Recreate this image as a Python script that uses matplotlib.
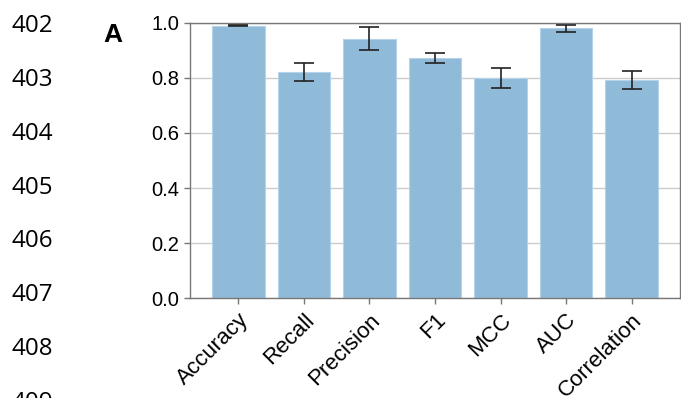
import matplotlib
matplotlib.use("Agg")
import matplotlib.pyplot as plt
import numpy as np

# ---- data ----
metrics = ["Accuracy", "Recall", "Precision", "F1", "MCC", "AUC", "Correlation"]
means = [0.989, 0.821, 0.942, 0.872, 0.800, 0.980, 0.791]
errors = [0.001, 0.031, 0.041, 0.019, 0.036, 0.013, 0.033]
yticks = [0.0, 0.2, 0.4, 0.6, 0.8, 1.0]
line_numbers = ["402", "403", "404", "405", "406", "407", "408", "409"]
panel_label = "A"

W, H = 681, 398
dpi = 100
fig = plt.figure(figsize=(W / dpi, H / dpi), dpi=dpi)
fig.patch.set_facecolor("white")

ax = fig.add_axes([190 / W, 1 - 298.3 / H, (680 - 190) / W, (298.3 - 22.7) / H])

x = np.arange(len(metrics))
ax.bar(x, means, width=0.8, color="#8fbbd9", edgecolor="#b4d3ea", linewidth=0.8,
       zorder=2)
ax.errorbar(x, means, yerr=errors, fmt="none", ecolor="#222222", elinewidth=1.2,
            capsize=7.2, capthick=1.2, zorder=3)

ax.set_ylim(0, 1.0)
ax.set_yticks(yticks)
ax.set_yticklabels([f"{t:.1f}" for t in yticks], fontsize=14.5,
                   family=["Liberation Sans", "DejaVu Sans"])
ax.set_xticks(x)
ax.set_xticklabels(metrics, rotation=45, ha="right", rotation_mode="anchor",
                   fontsize=16, family=["Liberation Sans", "DejaVu Sans"])

ax.yaxis.grid(True, color="#cccccc", linewidth=1.0, zorder=0)
ax.set_axisbelow(True)
for s in ax.spines.values():
    s.set_color("#777777")
    s.set_linewidth(1.0)
ax.tick_params(axis="both", colors="#777777", labelcolor="black", length=4.5, width=1.0)
ax.tick_params(axis="y", pad=3.0)

# panel label
fig.text(103 / W, 1 - 42 / H, panel_label, fontsize=19, fontweight="bold",
         family=["Liberation Sans", "DejaVu Sans"], ha="left", va="baseline")

# line numbers from the page margin
for i, ln in enumerate(line_numbers):
    yb = 32.3 + 53.8 * i
    fig.text(11 / W, 1 - yb / H, ln, fontsize=17.4, family=["Open Sans", "DejaVu Sans"],
             ha="left", va="baseline", color="black")

fig.savefig("out.png", dpi=dpi)
